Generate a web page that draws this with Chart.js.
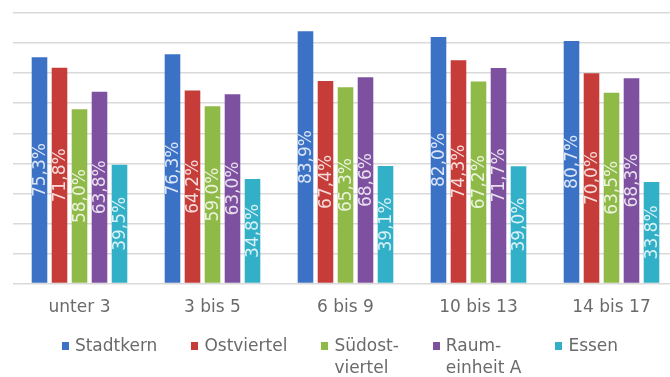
<!DOCTYPE html>
<html>
<head>
<meta charset="utf-8">
<script src="https://cdn.jsdelivr.net/npm/chart.js@4.4.1/dist/chart.umd.min.js"></script>
<style>
  html, body { margin: 0; padding: 0; background: #ffffff; overflow: hidden; }
  canvas { display: block; }
</style>
</head>
<body>
<canvas id="c" width="690" height="377" style="width:690px;height:377px"></canvas>
<script>
// Age groups on the x axis
const categories = ['unter 3', '3 bis 5', '6 bis 9', '10 bis 13', '14 bis 17'];

// Share per district (percent)
const stadtkern  = [75.3, 76.3, 83.9, 82.0, 80.7];
const ostviertel = [71.8, 64.2, 67.4, 74.3, 70.0];
const suedost    = [58.0, 59.0, 65.3, 67.2, 63.5];
const raumeinheitA = [63.8, 63.0, 68.6, 71.7, 68.3];
const essen      = [39.5, 34.8, 39.1, 39.0, 33.8];

const seriesNames = ['Stadtkern', 'Ostviertel', 'Südost-\nviertel', 'Raum-\neinheit A', 'Essen'];
const seriesColors = ['#3c72c6', '#c63c38', '#8fba48', '#7e50a0', '#32b0c8'];

// Value axis: 0 to 90 %, gridline every 10
const yTicks = [0, 10, 20, 30, 40, 50, 60, 70, 80, 90];

const FONT = 'DejaVu Sans';
const TEXT_GRAY = '#6a6a6a';

const seriesValues = [stadtkern, ostviertel, suedost, raumeinheitA, essen];

const datasets = seriesValues.map((vals, i) => ({
  label: seriesNames[i],
  data: vals,
  backgroundColor: seriesColors[i],
  borderWidth: 0,
  categoryPercentage: 0.752,
  barPercentage: 0.78
}));

function fmtPct(v) {
  return v.toFixed(1).replace('.', ',') + '%';
}

// Percentage labels written upright inside each bar, centred on it
const barLabels = {
  id: 'barLabels',
  afterDatasetsDraw(chart) {
    const ctx = chart.ctx;
    ctx.save();
    ctx.font = '17px "' + FONT + '"';
    ctx.fillStyle = 'rgba(255,255,255,0.82)';
    ctx.textAlign = 'center';
    ctx.textBaseline = 'middle';
    chart.data.datasets.forEach((ds, di) => {
      const meta = chart.getDatasetMeta(di);
      meta.data.forEach((bar, j) => {
        const cy = (bar.y + bar.base) / 2;
        ctx.save();
        ctx.translate(bar.x, cy);
        ctx.rotate(-Math.PI / 2);
        ctx.fillText(fmtPct(ds.data[j]), 0, 1);
        ctx.restore();
      });
    });
    ctx.restore();
  }
};

// Legend row under the axis; multi-line names wrap onto a second line
const slotLegend = {
  id: 'slotLegend',
  afterDraw(chart) {
    const ctx = chart.ctx;
    const box = 7, gapText = 6, gapItem = 34, lineH = 22;
    const top = 346;
    ctx.save();
    ctx.font = '17px "' + FONT + '"';
    ctx.textBaseline = 'middle';
    ctx.textAlign = 'left';
    const items = chart.data.datasets.map(ds => {
      const lines = ds.label.split('\n');
      const w = Math.max(...lines.map(l => ctx.measureText(l).width));
      return { lines, w: box + gapText + w, color: ds.backgroundColor };
    });
    const total = items.reduce((s, it) => s + it.w, 0) + gapItem * (items.length - 1);
    let x = 340 - total / 2;
    items.forEach(it => {
      ctx.fillStyle = it.color;
      ctx.fillRect(Math.round(x), top - 4, box, box + 1);
      ctx.fillStyle = TEXT_GRAY;
      it.lines.forEach((l, k) => {
        ctx.fillText(l, x + box + gapText, top + 1 + k * lineH);
      });
      x += it.w + gapItem;
    });
    ctx.restore();
  }
};

new Chart(document.getElementById('c'), {
  type: 'bar',
  data: { labels: categories, datasets },
  options: {
    responsive: false,
    animation: false,
    layout: { padding: { top: 13, left: 13, right: 12, bottom: 45 } },
    plugins: {
      legend: { display: false },
      tooltip: { enabled: false }
    },
    scales: {
      x: {
        grid: { display: false, drawTicks: false },
        border: { display: false },
        ticks: {
          color: TEXT_GRAY,
          font: { family: FONT, size: 17 },
          padding: 14,
          maxRotation: 0
        }
      },
      y: {
        min: yTicks[0],
        max: yTicks[yTicks.length - 1],
        afterBuildTicks(scale) { scale.ticks = yTicks.map(v => ({ value: v })); },
        grid: { color: '#d9d9d9', lineWidth: 1.5, drawTicks: false },
        border: { display: false },
        ticks: { display: false }
      }
    }
  },
  plugins: [barLabels, slotLegend]
});
</script>
</body>
</html>
